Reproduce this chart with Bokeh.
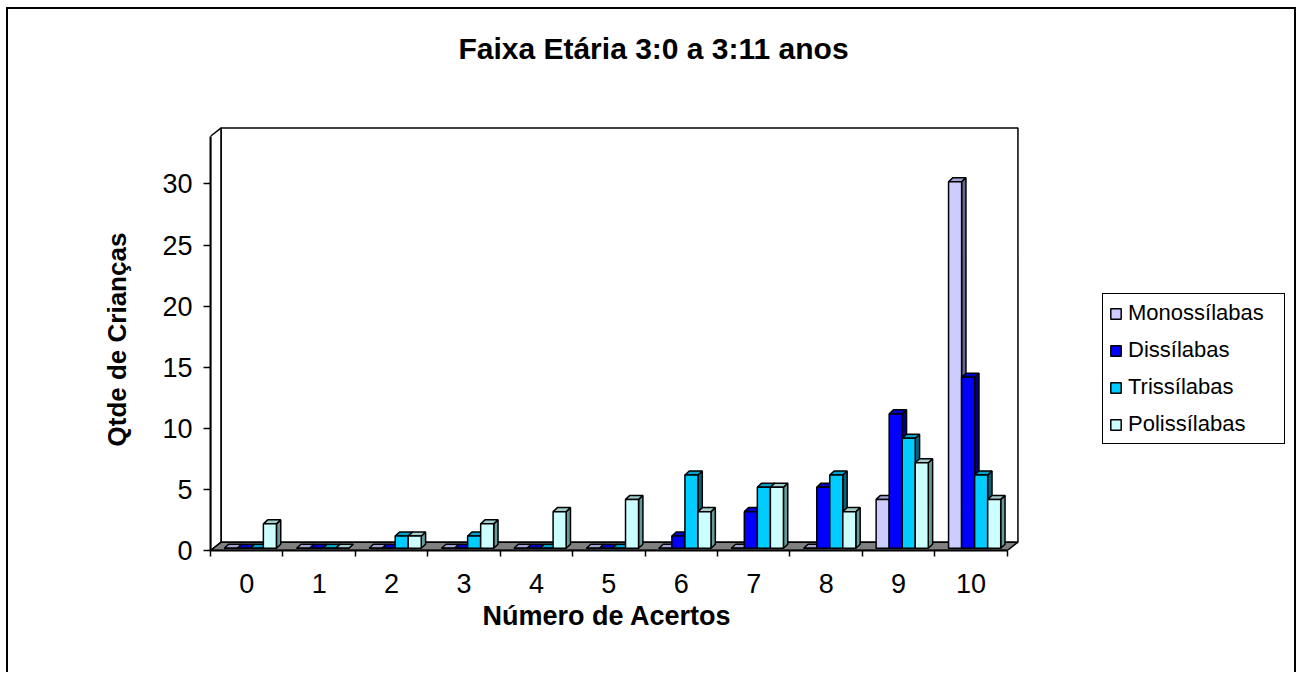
from bokeh.plotting import figure
from bokeh.models import FixedTicker, Legend, LegendItem, Range1d, Label, Title
from bokeh.embed import file_html
from bokeh.resources import INLINE

# ---------------- data ----------------
categories = ["0", "1", "2", "3", "4", "5", "6", "7", "8", "9", "10"]
series_names = ["Monossílabas", "Dissílabas", "Trissílabas", "Polissílabas"]
monossilabas = [0, 0, 0, 0, 0, 0, 0, 0, 0, 4, 30]
dissilabas = [0, 0, 0, 0, 0, 0, 1, 3, 5, 11, 14]
trissilabas = [0, 0, 1, 1, 0, 0, 6, 5, 6, 9, 6]
polissilabas = [2, 0, 1, 2, 3, 4, 3, 5, 3, 7, 4]
y_ticks = [0, 5, 10, 15, 20, 25, 30]

title_text = "Faixa Etária 3:0 a 3:11 anos"
x_title = "Número de Acertos"
y_title = "Qtde de Crianças"

# ---------------- style ----------------
front_colors = ["#CCCCFF", "#0000FF", "#00CCFF", "#CCFFFF"]
top_colors = ["#A3A3D6", "#0000CC", "#00A3CC", "#A3CCCC"]
side_colors = ["#666699", "#000080", "#006680", "#669999"]
FONT = "Liberation Sans"

W, H = 1297, 672
FL, FB = 210, 550           # frame left / bottom on the canvas (frame reaches top and right edge)
PX_X, PX_Y = 72.43, 12.22   # pixels per category / per unit
n = len(categories)
y_front_max = 33.9          # front edge of the value axis
fdx, fdy = 0.148, 0.68      # depth of floor / walls (data units)
bw = 0.18                   # bar width
ox, oy = 0.05, 0.18         # bar front offset inside depth
bx, by = 0.06, 0.33         # bar depth

x_end = -0.5 + (W - FL) / PX_X
y_end = FB / PX_Y

p = figure(width=W, height=H, output_backend="svg", toolbar_location=None, title=None,
           x_range=Range1d(-0.5, x_end), y_range=Range1d(0, y_end),
           min_border_left=FL, min_border_right=0,
           min_border_top=0, min_border_bottom=H - FB)
p.outline_line_color = None
p.xgrid.visible = False
p.ygrid.visible = False
p.background_fill_alpha = 0
p.border_fill_alpha = 0
p.styles = {
    "background-color": "white",
    "background-image": "linear-gradient(#000,#000), linear-gradient(#000,#000), linear-gradient(#000,#000)",
    "background-size": "2px 100%, calc(100% - 8px) 2px, 2px 100%",
    "background-position": "6px 7px, 6px 7px, calc(100% - 1px) 7px",
    "background-repeat": "no-repeat",
}

# walls and floor
xl, xr = -0.5, n - 0.5
p.patch([xl, xl + fdx, xl + fdx, xl], [0, fdy, y_front_max + fdy, y_front_max],
        fill_color="white", line_color="black", line_width=1.5)
p.quad(left=[xl + fdx], right=[xr + fdx], bottom=[fdy], top=[y_front_max + fdy],
       fill_color="white", line_color="black", line_width=1.5)
p.patch([xl, xr, xr + fdx, xl + fdx], [0, 0, fdy, fdy],
        fill_color="#808080", line_color="black", line_width=1.5)

# bars (pseudo 3-D)
all_series = [monossilabas, dissilabas, trissilabas, polissilabas]
legend_items = []
for k, vals in enumerate(all_series):
    lefts = [c - 2 * bw + k * bw + ox for c in range(n)]
    rights = [l + bw for l in lefts]
    tops = [oy + v for v in vals]
    side_xs = [[r, r + bx, r + bx, r] for r in rights]
    side_ys = [[oy, oy + by, t + by, t] for t in tops]
    top_xs = [[l, r, r + bx, l + bx] for l, r in zip(lefts, rights)]
    top_ys = [[t, t, t + by, t + by] for t in tops]
    p.patches(side_xs, side_ys, fill_color=side_colors[k], line_color="black", line_width=1.5)
    p.patches(top_xs, top_ys, fill_color=top_colors[k], line_color="black", line_width=1.5)
    r = p.quad(left=lefts, right=rights, bottom=[oy] * n, top=tops,
               fill_color=front_colors[k], line_color="black", line_width=1.5)
    legend_items.append(LegendItem(label=series_names[k], renderers=[r]))

# axes
xa = p.xaxis[0]
xa.ticker = FixedTicker(ticks=list(range(n)), minor_ticks=[i - 0.5 for i in range(n + 1)])
xa.major_label_overrides = {i: categories[i] for i in range(n)}
xa.bounds = (xl, xr)
xa.major_tick_out = 0
xa.major_tick_in = 0
xa.minor_tick_out = 6
xa.minor_tick_in = 0
xa.minor_tick_line_color = "black"
xa.minor_tick_line_width = 1.5
xa.axis_line_color = "black"
xa.axis_line_width = 2
xa.major_label_standoff = 17
xa.major_label_text_font = FONT
xa.major_label_text_font_size = "27px"
xa.major_label_text_color = "black"

ya = p.yaxis[0]
ya.ticker = FixedTicker(ticks=y_ticks, minor_ticks=[])
ya.bounds = (0, y_front_max)
ya.major_tick_out = 7
ya.major_tick_in = 0
ya.major_tick_line_color = "black"
ya.major_tick_line_width = 1.5
ya.axis_line_color = "black"
ya.axis_line_width = 2
ya.major_label_standoff = 11
ya.major_label_text_font = FONT
ya.major_label_text_font_size = "27px"
ya.major_label_text_color = "black"

has_standoff = "standoff" in Title.properties()

# axis titles as side-panel titles (positioned with offset)
xt = Title(text=x_title, align="left", offset=272, text_font=FONT, text_font_size="27px",
           text_font_style="bold", text_color="black")
if has_standoff:
    xt.standoff = 7
p.add_layout(xt, "below")

yt = Title(text=y_title, align="left", offset=104, text_font=FONT, text_font_size="26px",
           text_font_style="bold", text_color="black")
if has_standoff:
    yt.standoff = 55
p.add_layout(yt, "left")

# chart title (inside the frame, screen units relative to the frame)
p.add_layout(Label(x=653 - FL, y=FB - 48, x_units="screen", y_units="screen",
                   text=title_text, text_align="center", text_baseline="middle",
                   text_font=FONT, text_font_size="30px", text_font_style="bold",
                   text_color="black"))

# legend (inside the frame)
legend = Legend(items=legend_items, location=(1102 - FL, FB - 444), margin=0, padding=6,
                spacing=11, label_standoff=6, glyph_width=13, glyph_height=13, label_width=150,
                label_text_font=FONT, label_text_font_size="22px", label_text_color="black",
                border_line_color="black", border_line_width=1.5, border_line_alpha=1.0,
                background_fill_color="white", background_fill_alpha=1.0)
p.add_layout(legend, "center")

open("out.html", "w").write(file_html(p, INLINE))
